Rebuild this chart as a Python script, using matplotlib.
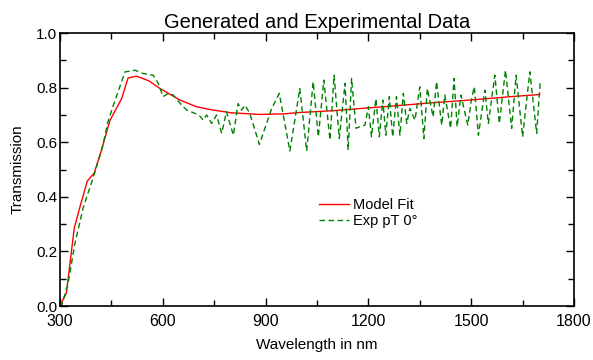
import matplotlib
matplotlib.use("Agg")
import matplotlib.pyplot as plt
from matplotlib.ticker import MultipleLocator, FormatStrFormatter

plt.rcParams["font.family"] = ["Liberation Sans", "DejaVu Sans"]

# model fit (red)
fit_wl = [300, 319, 342, 360, 380, 400, 417, 446, 480, 499, 524, 560, 592,
          650, 699, 738, 800, 884, 950, 1000, 1100, 1200, 1321, 1400, 1500,
          1613, 1700]
fit_t = [0.0, 0.048, 0.286, 0.37, 0.458, 0.487, 0.553, 0.68, 0.76, 0.836,
         0.842, 0.825, 0.797, 0.755, 0.73, 0.72, 0.708, 0.702, 0.704, 0.709,
         0.716, 0.726, 0.738, 0.746, 0.755, 0.767, 0.775]

# experimental data (green dashed)
exp_wl = [300, 305, 324, 344, 368, 397, 426, 439, 456, 490, 519, 543, 572,
          587, 601, 616, 631, 655, 670, 694, 709, 718, 728, 743, 757, 772,
          786, 806, 820, 830, 840, 854, 882, 918, 940, 971, 1000, 1020, 1039,
          1054, 1070, 1088, 1100, 1115, 1132, 1141, 1151, 1164, 1175, 1190,
          1200, 1209, 1222, 1232, 1242, 1251, 1261, 1271, 1282, 1292, 1302,
          1312, 1321, 1336, 1350, 1362, 1372, 1389, 1399, 1414, 1423, 1440,
          1450, 1459, 1470, 1490, 1501, 1509, 1521, 1540, 1550, 1569, 1582,
          1600, 1618, 1631, 1650, 1671, 1691, 1701]
exp_t = [0.0, 0.0, 0.084, 0.23, 0.36, 0.47, 0.59, 0.67, 0.736, 0.858, 0.864,
         0.852, 0.846, 0.816, 0.767, 0.779, 0.773, 0.736, 0.718, 0.706, 0.695,
         0.681, 0.70, 0.669, 0.70, 0.633, 0.712, 0.626, 0.742, 0.718, 0.736,
         0.706, 0.592, 0.724, 0.779, 0.568, 0.797, 0.568, 0.822, 0.62, 0.828,
         0.608, 0.846, 0.614, 0.816, 0.571, 0.834, 0.651, 0.657, 0.663, 0.73,
         0.62, 0.76, 0.62, 0.755, 0.626, 0.767, 0.62, 0.767, 0.626, 0.779,
         0.669, 0.724, 0.681, 0.803, 0.614, 0.797, 0.693, 0.822, 0.663, 0.773,
         0.651, 0.834, 0.657, 0.773, 0.663, 0.76, 0.803, 0.626, 0.791, 0.669,
         0.846, 0.669, 0.864, 0.651, 0.846, 0.62, 0.858, 0.633, 0.816]

fig = plt.figure(figsize=(5.93, 3.6), dpi=100)
ax = fig.add_axes([0.101, 0.15, 0.867, 0.758])

ax.plot(fit_wl, fit_t, color="#ff0000", lw=1.0, label="Model Fit")
ax.plot(exp_wl, exp_t, color="#008000", lw=1.0, ls=(0, (4, 2.5)),
        label="Exp pT 0\u00b0")

ax.set_xlim(300, 1800)
ax.set_ylim(0.0, 1.0)
ax.xaxis.set_major_locator(MultipleLocator(300))
ax.xaxis.set_minor_locator(MultipleLocator(150))
ax.yaxis.set_major_locator(MultipleLocator(0.2))
ax.yaxis.set_minor_locator(MultipleLocator(0.1))
ax.yaxis.set_major_formatter(FormatStrFormatter("%.1f"))
ax.tick_params(which="both", direction="in", top=True, right=True, width=1.0)
ax.tick_params(axis="x", labelsize=11.5, pad=6)
ax.tick_params(axis="y", labelsize=11, pad=2)
ax.tick_params(which="major", length=6)
ax.tick_params(which="minor", length=4)
for s in ax.spines.values():
    s.set_linewidth(1.2)

ax.set_xlabel("Wavelength in nm", fontsize=11, labelpad=6)
ax.set_ylabel("Transmission", fontsize=11, labelpad=8)
ax.set_title("Generated and Experimental Data", fontsize=14.5, pad=4)

ax.legend(loc="upper left", bbox_to_anchor=(0.504, 0.395), frameon=False,
          fontsize=10.5, handlelength=2.05, handletextpad=0.3,
          labelspacing=0.15, borderpad=0, borderaxespad=0)

fig.savefig("out.png", dpi=100)
